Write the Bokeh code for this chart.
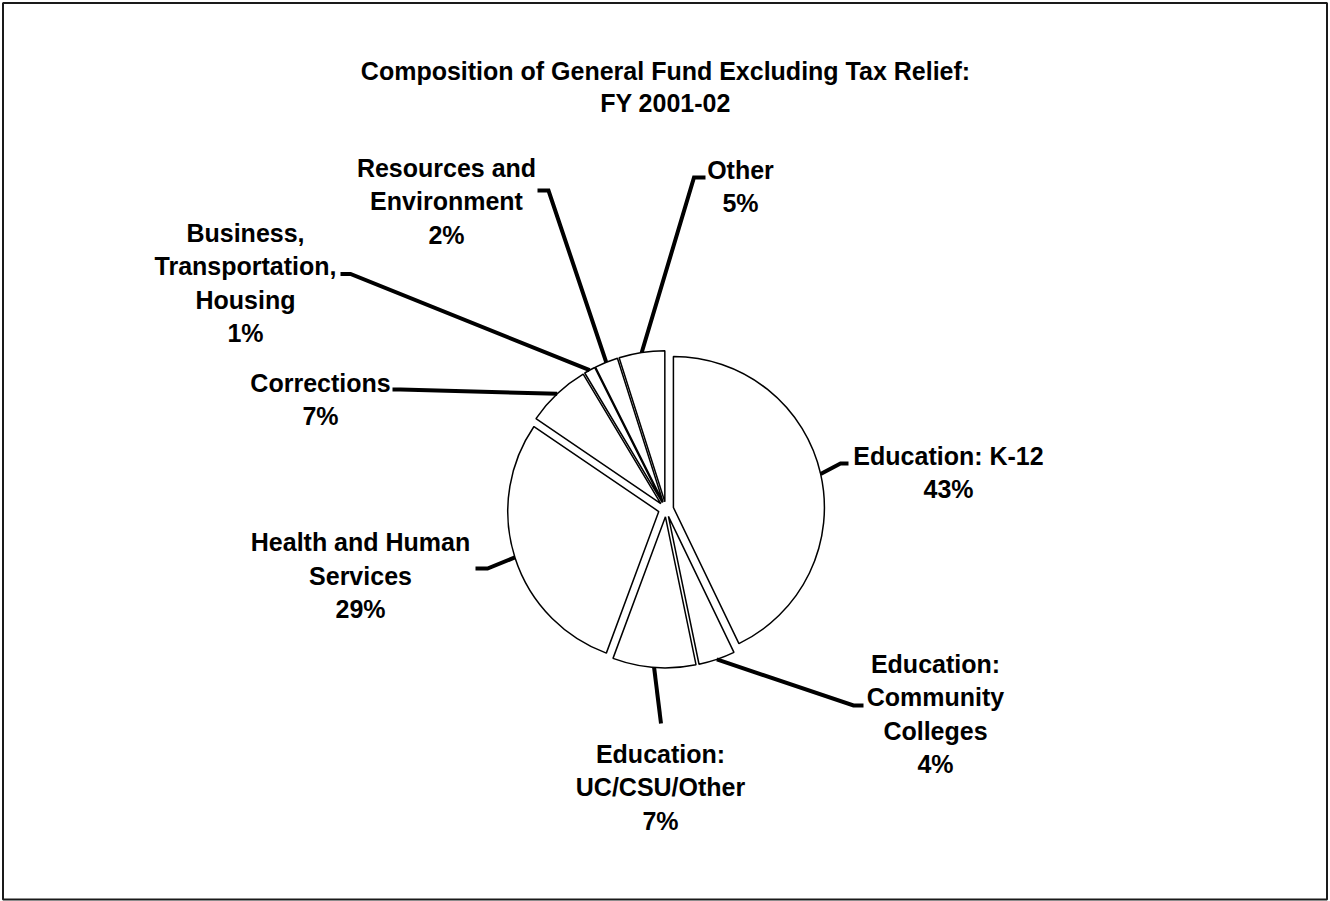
import numpy as np
from bokeh.plotting import figure
from bokeh.models import Range1d
from bokeh.core.properties import value
from bokeh.embed import file_html
from bokeh.resources import INLINE

# ---------------- data ----------------
title_lines = ["Composition of General Fund Excluding Tax Relief:", "FY 2001-02"]
categories = [
    "Education: K-12",
    "Education: Community Colleges",
    "Education: UC/CSU/Other",
    "Health and Human Services",
    "Corrections",
    "Business, Transportation, Housing",
    "Resources and Environment",
    "Other",
]
label_lines = [
    ["Education: K-12"],
    ["Education:", "Community", "Colleges"],
    ["Education:", "UC/CSU/Other"],
    ["Health and Human", "Services"],
    ["Corrections"],
    ["Business,", "Transportation,", "Housing"],
    ["Resources and", "Environment"],
    ["Other"],
]
pct_labels = ["43%", "4%", "7%", "29%", "7%", "1%", "2%", "5%"]
# slice sizes (percent)
shares = [42.9, 3.9, 8.9, 28.9, 6.9, 1.2, 2.5, 4.9]

# ---------------- layout (screen pixels, y down) ----------------
W, H = 1330, 901
CX, CY = 665.5, 508.7
R = 151.0
EXPLODE = 7.6
FONT = value("Liberation Sans")
FSIZE = "25px"
LINE_STEP = 33.5
CAP_HALF = 8.4

label_anchor = [  # center x, first-line center y
    (948, 447), (935, 655), (660, 745), (360, 533.5),
    (320, 374), (245, 224), (446, 159), (740, 161),
]
leader_tail = [  # elbow and end points of each leader line
    [(840, 463), (848, 463)],
    [(853, 705), (863, 705)],
    [(660.5, 723), (660.5, 723)],
    [(487, 568), (475, 568)],
    [(400, 389), (392, 389)],
    [(350, 273.5), (340, 273.5)],
    [(548, 190), (537, 190)],
    [(693.5, 177), (705, 177)],
]


def fy(y):
    return H - y


p = figure(width=W, height=H, output_backend="svg", toolbar_location=None,
           x_range=Range1d(0, W), y_range=Range1d(0, H), min_border=0,
           outline_line_color=None, background_fill_color="white",
           border_fill_color="white")
p.axis.visible = False
p.grid.visible = False

# outer frame
p.quad(left=[2.5], right=[1326.5], top=[fy(2.5)], bottom=[fy(899)],
       fill_color=None, line_color="#1a1a1a", line_width=2)

# pie slices (clockwise from 12 o'clock, each exploded along its bisector)
vals = np.array(shares, dtype=float)
frac = vals / vals.sum()
cum = np.concatenate([[0.0], np.cumsum(frac)])
a_start = np.deg2rad(90 - cum[1:] * 360)
a_end = np.deg2rad(90 - cum[:-1] * 360)
mid = (a_start + a_end) / 2
apex_x = CX + EXPLODE * np.cos(mid)
apex_y = fy(CY) + EXPLODE * np.sin(mid)

p.wedge(x=apex_x, y=apex_y, radius=R, start_angle=a_start, end_angle=a_end,
        direction="anticlock", fill_color="white", line_color="black",
        line_width=1.5)

# leader lines
xs, ys = [], []
for i in range(len(categories)):
    sx = apex_x[i] + R * np.cos(mid[i])
    sy = apex_y[i] + R * np.sin(mid[i])
    pts = leader_tail[i]
    xs.append([sx] + [pt[0] for pt in pts])
    ys.append([sy] + [fy(pt[1]) for pt in pts])
p.multi_line(xs=xs, ys=ys, line_color="black", line_width=4,
             line_join="miter", line_cap="butt")

# labels
tx, ty, tt = [], [], []
for i in range(len(categories)):
    lines = label_lines[i] + [pct_labels[i]]
    cx, cy0 = label_anchor[i]
    for k, line in enumerate(lines):
        tx.append(cx)
        ty.append(fy(cy0 + k * LINE_STEP + CAP_HALF))
        tt.append(line)
p.text(x=tx, y=ty, text=tt, text_align="center", text_baseline="alphabetic",
       text_font=FONT, text_font_style="bold", text_font_size=FSIZE,
       text_color="black")

# title
p.text(x=[665, 665], y=[fy(62.5 + CAP_HALF), fy(94.5 + CAP_HALF)], text=title_lines,
       text_align="center", text_baseline="alphabetic", text_font=FONT,
       text_font_style="bold", text_font_size=FSIZE, text_color="black")

open("out.html", "w").write(file_html(p, INLINE))
